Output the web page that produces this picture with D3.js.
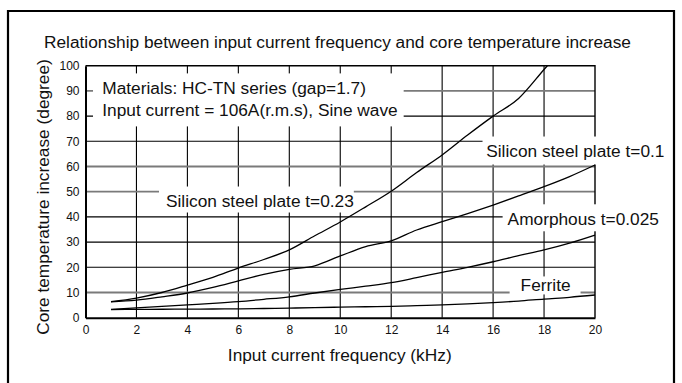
<!DOCTYPE html>
<html>
<head>
<meta charset="utf-8">
<script src="https://cdn.jsdelivr.net/npm/d3@7/dist/d3.min.js"></script>
<style>
  html, body { margin: 0; padding: 0; background: #fff; }
  svg { display: block; font-family: "Liberation Sans", Arial, Helvetica, sans-serif; }
</style>
</head>
<body>
<svg id="chart" width="682" height="383"></svg>
<script>
// Frequency (kHz) sampling for every curve
const freq = [1, 2, 3, 4, 5, 6, 7, 8, 9, 10, 11, 12, 13, 14, 15, 16, 17, 18, 19, 20];

// Core temperature increase (degree) per material
const steel023 = [6.4, 7.8, 10, 12.9, 16, 19.7, 23.1, 26.9, 32.5, 38, 44, 50.2, 57.6, 64.6, 72.5, 80, 87, 98.5, null, null];
const steel01  = [6.3, 7.0, 8.3, 9.8, 12, 14.6, 17.2, 19.2, 20.6, 24.5, 28.2, 30.5, 34.8, 38.1, 41.3, 44.7, 48.3, 52, 56, 60.6];
const amorphous = [3.3, 3.9, 4.5, 5.1, 5.7, 6.4, 7.3, 8.3, 9.8, 11.2, 12.5, 13.9, 15.9, 18, 20, 22.2, 24.6, 26.9, 29.6, 32.8];
const ferrite  = [3.2, 3.3, 3.35, 3.4, 3.45, 3.5, 3.65, 3.8, 4.0, 4.2, 4.35, 4.5, 4.8, 5.1, 5.5, 6.0, 6.6, 7.4, 8.1, 9.0];
// Point where the t=0.23 curve leaves the top of the plot
const steel023Exit = [18.13, 100];

// Axis ticks
const xTicks = [0, 2, 4, 6, 8, 10, 12, 14, 16, 18, 20];
const yTicks = [0, 10, 20, 30, 40, 50, 60, 70, 80, 90, 100];
const grayRows = [10, 50, 60, 90];

// Texts
const titleText = "Relationship between input current frequency and core temperature increase";
const xTitle = "Input current frequency (kHz)";
const yTitle = "Core temperature increase (degree)";
const noteLines = ["Materials: HC-TN series (gap=1.7)", "Input current = 106A(r.m.s), Sine wave"];
const seriesNames = ["Silicon steel plate t=0.23", "Silicon steel plate t=0.1", "Amorphous t=0.025", "Ferrite"];

// Label placement (data units for the text start/baseline, px padding for the white box)
const labelLayout = [
  { lines: noteLines, x: 0.66, y: 88.65, lead: 21.4, pad: [9.3, 6, 4.9, 6.7] },
  { lines: [seriesNames[0]], x: 3.16, y: 44.0, lead: 0, pad: [7, 0, 4.3, 1.7] },
  { lines: [seriesNames[1]], x: 15.73, y: 63.96, lead: 0, pad: [3.7, 4, 4, 4] },
  { lines: [seriesNames[2]], x: 16.57, y: 36.67, lead: 0, pad: [5, 4, 5, 2] },
  { lines: [seriesNames[3]], x: 17.08, y: 10.58, lead: 0, pad: [11, 10, -1.4, -0.6] }
];

const svg = d3.select("#chart");
const W = 682, H = 383;
const plot = { left: 85.5, right: 595, top: 65.7, bottom: 317.7 };
const bigFont = 17.3;

const x = d3.scaleLinear().domain([0, 20]).range([plot.left, plot.right]);
const y = d3.scaleLinear().domain([0, 100]).range([plot.bottom, plot.top]);

// Outer frame
svg.append("path")
  .attr("d", `M8,${H} L8,11 L674,11 L674,${H}`)
  .attr("fill", "none").attr("stroke", "#000").attr("stroke-width", 2.2);

// Title
svg.append("text")
  .attr("x", 44).attr("y", 48)
  .attr("font-size", bigFont).attr("fill", "#111")
  .text(titleText);

// Grid: vertical lines
const grid = svg.append("g");
grid.selectAll("line.v").data(xTicks.slice(1, -1)).join("line")
  .attr("x1", d => x(d)).attr("x2", d => x(d))
  .attr("y1", y(0)).attr("y2", y(100))
  .attr("stroke", "#000").attr("stroke-width", 1.1);

// Grid: horizontal lines (some rows are drawn in grey)
grid.selectAll("line.h").data(yTicks.slice(1, -1)).join("line")
  .attr("x1", x(0)).attr("x2", x(20))
  .attr("y1", d => y(d)).attr("y2", d => y(d))
  .attr("stroke", d => grayRows.includes(d) ? "#7a7a7a" : "#000")
  .attr("stroke-width", d => grayRows.includes(d) ? 1.8 : 1.1);

// Top and right border of the plot
svg.append("path")
  .attr("d", `M${x(0)},${y(100)} L${x(20)},${y(100)} L${x(20)},${y(0)}`)
  .attr("fill", "none").attr("stroke", "#000").attr("stroke-width", 1.4);

// White boxes behind the labels, then the labels
const labels = svg.append("g");
labelLayout.forEach(L => {
  const g = labels.append("g");
  const rect = g.append("rect").attr("fill", "#fff");
  const t = g.append("text").attr("font-size", bigFont).attr("fill", "#111");
  L.lines.forEach((s, i) => {
    t.append("tspan").attr("x", x(L.x)).attr("y", y(L.y) + i * L.lead).text(s);
  });
  const b = t.node().getBBox();
  rect.attr("x", b.x - L.pad[0]).attr("y", b.y - L.pad[2])
    .attr("width", b.width + L.pad[0] + L.pad[1])
    .attr("height", b.height + L.pad[2] + L.pad[3]);
});

// Axes (left and bottom), no tick marks
const xAxis = d3.axisBottom(x).tickValues(xTicks).tickSize(0).tickPadding(8).tickFormat(d3.format("d"));
const yAxis = d3.axisLeft(y).tickValues(yTicks).tickSize(0).tickPadding(6).tickFormat(d3.format("d"));

const gx = svg.append("g").attr("transform", `translate(0,${plot.bottom})`).call(xAxis);
const gy = svg.append("g").attr("transform", `translate(${plot.left},0)`).call(yAxis);
[gx, gy].forEach(g => {
  g.select(".domain").attr("stroke", "#000").attr("stroke-width", 2);
  g.selectAll("text").attr("font-size", 12).attr("fill", "#111")
    .attr("font-family", '"Liberation Sans", Arial, sans-serif');
});
gx.selectAll("text").attr("dy", "0.71em");

// Curves
const line = d3.line()
  .defined(d => d[1] != null)
  .x(d => x(d[0])).y(d => y(d[1]))
  .curve(d3.curveMonotoneX);

const steel023Pts = freq.map((f, i) => [f, steel023[i]]).filter(d => d[1] != null);
steel023Pts.push(steel023Exit);

const series = [
  steel023Pts,
  freq.map((f, i) => [f, steel01[i]]),
  freq.map((f, i) => [f, amorphous[i]]),
  freq.map((f, i) => [f, ferrite[i]])
];

svg.append("g").selectAll("path").data(series).join("path")
  .attr("d", line)
  .attr("fill", "none").attr("stroke", "#000").attr("stroke-width", 1.3);

// Axis titles
svg.append("text")
  .attr("x", (plot.left + plot.right) / 2 - 0.5).attr("y", 361)
  .attr("text-anchor", "middle").attr("font-size", bigFont).attr("fill", "#111")
  .text(xTitle);

svg.append("text")
  .attr("transform", `translate(48.5,197) rotate(-90)`)
  .attr("text-anchor", "middle").attr("font-size", bigFont).attr("fill", "#111")
  .text(yTitle);
</script>
</body>
</html>
